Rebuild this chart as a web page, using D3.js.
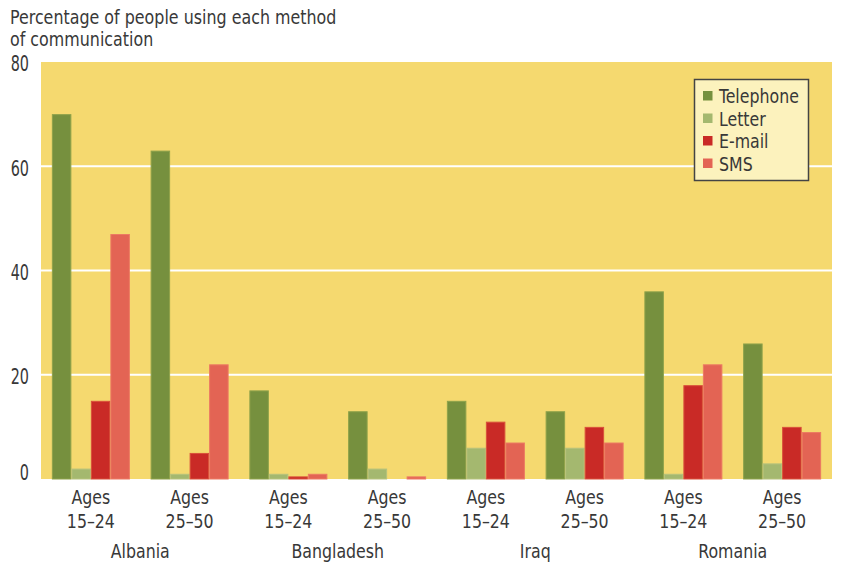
<!DOCTYPE html>
<html>
<head>
<meta charset="utf-8">
<script src="https://cdn.jsdelivr.net/npm/d3@7"></script>
<style>
  html, body { margin: 0; padding: 0; background: #ffffff; }
  svg { display: block; }
  text { font-family: "Liberation Sans Narrow", "Arial Narrow", "DejaVu Sans Condensed", sans-serif; fill: #383838; }
</style>
</head>
<body>
<svg id="chart" width="843" height="562"></svg>
<script>
// ---- data ----
const countries = ["Albania", "Bangladesh", "Iraq", "Romania"];
const ageGroups = ["15–24", "25–50"];
const seriesNames = ["Telephone", "Letter", "E-mail", "SMS"];
const telephone = [70, 63, 17, 13, 15, 13, 36, 26];
const letter    = [2, 1, 1, 2, 6, 6, 1, 3];
const email     = [15, 5, 0.5, 0, 11, 10, 18, 10];
const sms       = [47, 22, 1, 0.5, 7, 7, 22, 9];
const yTicks = [0, 20, 40, 60, 80];
const titleLines = ["Percentage of people using each method", "of communication"];

// ---- styles ----
const colors = ["#76903e", "#a4b86f", "#c92a26", "#e36454"];
const edgeColors = ["#8fa24a", "#b6c27c", "#d9503a", "#ec7a62"];
const bg = "#f5d96f";

const svg = d3.select("#chart");
const plot = { left: 41, right: 832, top: 62, bottom: 479 };

// condensed text helper
function txt(parent, x, y, str, size, sx, anchor, dy) {
  return parent.append("text")
    .attr("transform", `translate(${x},${y}) scale(${sx},1.04)`)
    .attr("dy", dy || 0)
    .attr("text-anchor", anchor || "start")
    .attr("font-size", size)
    .text(str);
}

const groups = [];
countries.forEach(c => ageGroups.forEach(a => groups.push(c + "|" + a)));
const seriesData = [telephone, letter, email, sms];

const x0 = d3.scaleBand().domain(groups).range([plot.left, plot.right])
  .paddingInner(0.21).paddingOuter(0.11);
const x1 = d3.scaleBand().domain(seriesNames).range([0, x0.bandwidth()]).padding(0);
const y = d3.scaleLinear().domain([0, 80]).range([plot.bottom, plot.top]);

// background
svg.append("rect")
  .attr("x", plot.left).attr("y", plot.top)
  .attr("width", plot.right - plot.left).attr("height", plot.bottom - plot.top)
  .attr("fill", bg);

// gridlines
svg.append("g").selectAll("line")
  .data(yTicks.filter(t => t > 0 && t < 80))
  .join("line")
  .attr("x1", plot.left).attr("x2", plot.right)
  .attr("y1", d => y(d)).attr("y2", d => y(d))
  .attr("stroke", "#ffffff").attr("stroke-width", 2);

// bars
const gBars = svg.append("g");
groups.forEach((g, gi) => {
  seriesNames.forEach((s, si) => {
    const v = seriesData[si][gi];
    if (v <= 0) return;
    const bx = x0(g) + x1(s);
    gBars.append("rect")
      .attr("x", bx + 0.5)
      .attr("y", y(v) + 0.5)
      .attr("width", x1.bandwidth() - 1)
      .attr("height", Math.max(0, y(0) - y(v) - 0.5))
      .attr("fill", colors[si])
      .attr("stroke", edgeColors[si])
      .attr("stroke-width", 1);
  });
});

// y axis labels
const gy = svg.append("g");
yTicks.forEach(t => {
  txt(gy, 29, y(t) + (t === 0 ? -6 : 2), t, 20, 0.8, "end", "0.36em");
});

// title
const gt = svg.append("g");
titleLines.forEach((l, i) => txt(gt, 10, 24 + i * 22, l, 18.5, 0.955, "start"));

// x labels
const gx = svg.append("g");
groups.forEach(g => {
  const [c, a] = g.split("|");
  const cx = x0(g) + x0.bandwidth() / 2;
  txt(gx, cx, 504, "Ages", 19.5, 0.9, "middle");
  txt(gx, cx, 528, a, 19.5, 0.9, "middle");
});
countries.forEach(c => {
  const a = x0(c + "|" + ageGroups[0]);
  const b = x0(c + "|" + ageGroups[1]) + x0.bandwidth();
  txt(gx, (a + b) / 2, 558, c, 19.5, 0.9, "middle");
});

// legend
const lg = svg.append("g");
lg.append("rect")
  .attr("x", 694.5).attr("y", 79.5).attr("width", 114).attr("height", 101)
  .attr("fill", "#fcf2bd").attr("stroke", "#444444").attr("stroke-width", 1.5);
seriesNames.forEach((s, i) => {
  const cy = 96 + i * 22.5;
  lg.append("rect").attr("x", 703).attr("y", cy - 5).attr("width", 9.5).attr("height", 9.5)
    .attr("fill", colors[i]);
  txt(lg, 719, cy, s, 19.5, 0.9, "start", "0.36em");
});
</script>
</body>
</html>
